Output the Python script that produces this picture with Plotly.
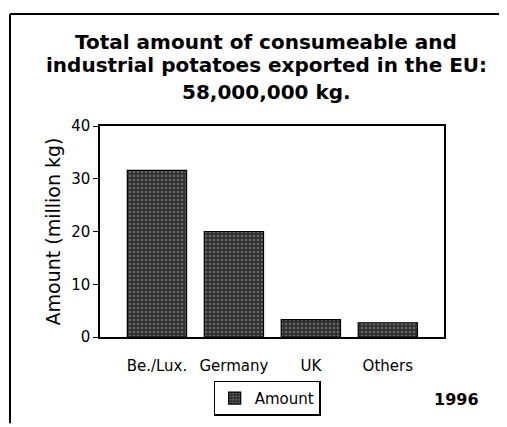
import plotly.graph_objects as go

# Data
regions = ["Be./Lux.", "Germany", "UK", "Others"]
amounts = [31.6, 20.0, 3.3, 2.7]
y_ticks = [0, 10, 20, 30, 40]
title_lines = [
    "Total amount of consumeable and",
    "industrial potatoes exported in the EU:",
    "58,000,000 kg.",
]

OFF = 8  # page body margin shifts the figure by this much
W, H = 507 - OFF, 427 - OFF
L, T = 100 - OFF, 126 - OFF
plot_w, plot_h = 344, 213
R = W - L - plot_w
B = H - T - plot_h


def px_x(p):
    # screen pixel -> plot-relative paper x
    return (p - OFF - L) / plot_w


def px_y(p):
    # screen pixel -> plot-relative paper y
    return (T + plot_h - (p - OFF)) / plot_h


FONT = "DejaVu Sans, Liberation Sans, Arial, sans-serif"

fig = go.Figure()

fig.add_trace(go.Bar(
    x=regions,
    y=amounts,
    name="Amount",
    width=0.77,
    marker=dict(
        color="#303030",
        line=dict(color="#000000", width=1.2),
        pattern=dict(shape=".", fgcolor="#9a9a9a", bgcolor="#303030", size=4, solidity=0.35),
    ),
))

# title, one annotation per line to match the line spacing
title_y = [41, 64, 92]
annotations = [
    dict(text="<b>%s</b>" % line, xref="paper", yref="paper",
         x=px_x(266), y=px_y(yy), xanchor="center", yanchor="middle",
         showarrow=False, font=dict(size=20))
    for line, yy in zip(title_lines, title_y)
]
annotations.append(dict(
    text="<b>1996</b>", xref="paper", yref="paper",
    x=px_x(481), y=px_y(402), xanchor="right", yanchor="middle",
    showarrow=False, font=dict(size=16),
))

fig.update_layout(
    width=W,
    height=H,
    font=dict(family=FONT, color="#000000"),
    paper_bgcolor="#ffffff",
    plot_bgcolor="#ffffff",
    margin=dict(l=L, r=R, t=T, b=B),
    showlegend=True,
    legend=dict(
        x=px_x(267),
        y=px_y(383),
        xanchor="center",
        yanchor="top",
        bordercolor="#000000",
        borderwidth=1.2,
        bgcolor="#ffffff",
        font=dict(size=15),
        itemwidth=30,
        tracegroupgap=0,
    ),
    xaxis=dict(
        range=[-0.74, 3.73],
        showgrid=False,
        zeroline=False,
        showline=True,
        linecolor="#000000",
        linewidth=1.5,
        mirror=True,
        ticks="",
        tickfont=dict(size=15),
        ticklabelstandoff=14,
    ),
    yaxis=dict(
        range=[0, 40],
        tickvals=y_ticks,
        showgrid=False,
        zeroline=False,
        showline=True,
        linecolor="#000000",
        linewidth=1.5,
        mirror=True,
        ticks="outside",
        ticklen=5,
        tickcolor="#000000",
        tickfont=dict(size=15),
        title=dict(text="Amount (million kg)", font=dict(size=19), standoff=6),
    ),
    annotations=annotations,
    shapes=[
        dict(type="line", xref="paper", yref="paper",
             x0=px_x(10), x1=px_x(505), y0=px_y(13), y1=px_y(13),
             line=dict(color="#000000", width=2)),
        dict(type="line", xref="paper", yref="paper",
             x0=px_x(10), x1=px_x(10), y0=px_y(13), y1=px_y(426),
             line=dict(color="#000000", width=2)),
    ],
)

fig.write_html("out.html", config={"displayModeBar": False})
